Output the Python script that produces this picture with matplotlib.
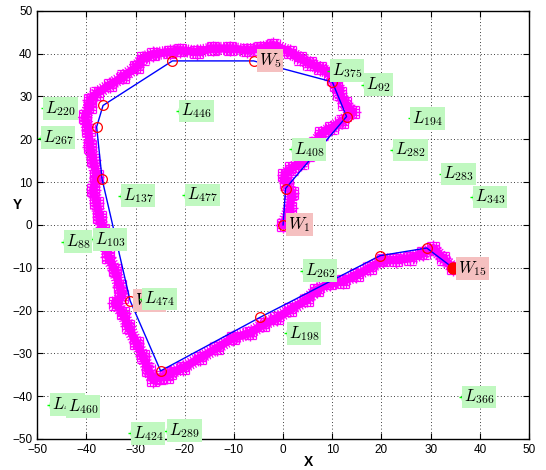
import matplotlib
matplotlib.use("Agg")
import matplotlib.pyplot as plt
import matplotlib.patheffects as pe

plt.rcParams['font.family'] = ['Liberation Sans', 'DejaVu Sans']
plt.rcParams['mathtext.fontset'] = 'cm'

# planned waypoints W1..W15
wp_x = [0.0, 0.5, 12.9, 10.0, -6.0, -22.5, -36.6, -37.9, -36.8, -31.1, -24.9, -4.7, 19.7, 29.2, 34.6]
wp_y = [0.0, 8.5, 25.3, 33.4, 38.3, 38.3, 27.9, 22.9, 10.7, -17.7, -34.1, -21.6, -7.2, -5.4, -10.1]
wp_labeled = [1, 5, 10, 15]

# estimated vehicle track
track_x = [0.0, 1.4, 1.7, 0.7, 0.3, 1.7, 3.7, 5.1, 6.5, 7.8, 9.8, 11.9, 14.2, 12.5, 11.5,
           10.8, 10.2, 9.5, 7.5, 5.4, 3.4, 1.4, -2.0, -4.7, -7.4, -10.8, -14.2, -17.6,
           -21.0, -23.0, -26.4, -28.5, -29.8, -32.5, -35.2, -37.9, -39.3, -39.3, -40.3,
           -39.6, -39.3, -38.6, -37.9, -38.6, -37.9, -37.3, -36.6, -36.0, -35.6, -34.2,
           -33.2, -32.8, -34.2, -32.5, -31.5, -29.8, -28.5, -27.4, -26.4, -25.1, -23.7,
           -23.0, -20.3, -16.9, -13.5, -10.2, -6.8, -4.1, -1.3, 1.4, 4.8, 6.8, 9.5, 12.2,
           14.9, 17.6, 20.3, 23.0, 25.8, 28.5, 30.5, 32.5, 34.6]
track_y = [0.0, 3.9, 7.4, 9.7, 11.7, 13.2, 14.4, 16.3, 19.0, 21.4, 22.6, 24.1, 26.4, 28.4, 30.7,
           32.7, 34.2, 35.4, 36.6, 37.7, 38.9, 40.4, 42.0, 41.2, 40.8, 41.2, 41.2, 40.4,
           40.8, 40.4, 39.9, 38.9, 36.9, 34.6, 32.7, 30.7, 29.2, 27.6, 25.3,
           22.2, 18.3, 15.2, 11.3, 8.2, 5.1, 1.9, -1.2, -4.3, -7.4, -10.5,
           -14.4, -16.7, -18.3, -20.6, -23.7, -27.6, -30.7, -33.8, -36.2, -35.6, -35.4,
           -34.6, -33.4, -31.1, -28.8, -26.4, -25.3, -23.3, -21.8, -19.8, -17.5, -15.2, -13.6, -13.2,
           -11.7, -10.1, -8.2, -8.2, -7.8, -6.6, -5.4, -7.8, -10.1]

# landmarks shown with their ids
lm_ids = ['220', '267', '446', '137', '477', '375', '92', '194', '408', '282', '283', '343',
          '88', '103', '474', '459', '460', '424', '289', '262', '198', '366']
lm_x = [-48.7, -49.3, -21.1, -33.0, -19.9, 9.5, 16.5, 25.9, 1.8, 22.4, 32.2, 38.6,
        -44.6, -38.6, -28.6, -47.3, -44.2, -31.0, -23.5, 4.1, 0.7, 36.3]
lm_y = [27.2, 20.4, 26.6, 6.8, 7.0, 36.0, 32.7, 24.9, 17.7, 17.5, 11.9, 6.5,
        -3.9, -3.4, -17.3, -42.0, -42.5, -48.7, -48.1, -10.7, -25.3, -40.2]

fig = plt.figure(figsize=(5.46, 4.70), dpi=100)
ax = fig.add_axes([0.068, 0.066, 0.901, 0.911])

# hairy band: thick stroke with short ticks on both sides
hair = [pe.TickedStroke(spacing=2.0, angle=90, length=2.2, linewidth=0.9, foreground='magenta'),
        pe.TickedStroke(spacing=2.0, angle=-90, length=2.2, linewidth=0.9, foreground='magenta'),
        pe.Normal()]
ax.plot(track_x, track_y, color='magenta', lw=6, marker='+', ms=11, mew=1.0,
        solid_capstyle='round', solid_joinstyle='round', path_effects=hair, zorder=2)
ax.plot(wp_x, wp_y, color='blue', lw=1, zorder=3)
ax.plot(wp_x[:-1], wp_y[:-1], 'o', mfc='none', mec='red', ms=7, mew=0.9, zorder=4)
ax.plot(wp_x[-1], wp_y[-1], 'o', color='red', ms=8, zorder=4)

for n in wp_labeled:
    ax.text(wp_x[n - 1] + 1.0, wp_y[n - 1], r'$W_{%d}$' % n, fontsize=12,
            ha='left', va='center', zorder=5,
            bbox=dict(boxstyle='square,pad=0.12', fc='#f5c0c0', ec='none'))

ax.plot(lm_x, lm_y, '+', color='#00ff00', ms=4, mew=1, zorder=5)
for lid, x, y in zip(lm_ids, lm_x, lm_y):
    ax.text(x + 0.4, y, r'$L_{%s}$' % lid, fontsize=12, ha='left', va='center',
            zorder=6, bbox=dict(boxstyle='square,pad=0.12', fc='#c0f8c0', ec='none'))

ax.set_xlim(-50, 50)
ax.set_ylim(-50, 50)
ax.set_xticks(range(-50, 51, 10))
ax.set_yticks(range(-50, 51, 10))
ax.tick_params(direction='in', top=True, right=True, labelsize=8.5, length=4)
ax.grid(True, color='black', linestyle=(0, (1, 3)), lw=0.6)
for s in ax.spines.values():
    s.set_linewidth(1.0)

ax.set_xlabel('X', fontsize=10, fontweight='bold', va='center')
ax.set_ylabel('Y', fontsize=10, fontweight='bold', rotation=0, ha='center', va='center')
ax.xaxis.set_label_coords(0.551, -0.053)
ax.yaxis.set_label_coords(-0.04, 0.547)

fig.savefig('out.png', dpi=100)
